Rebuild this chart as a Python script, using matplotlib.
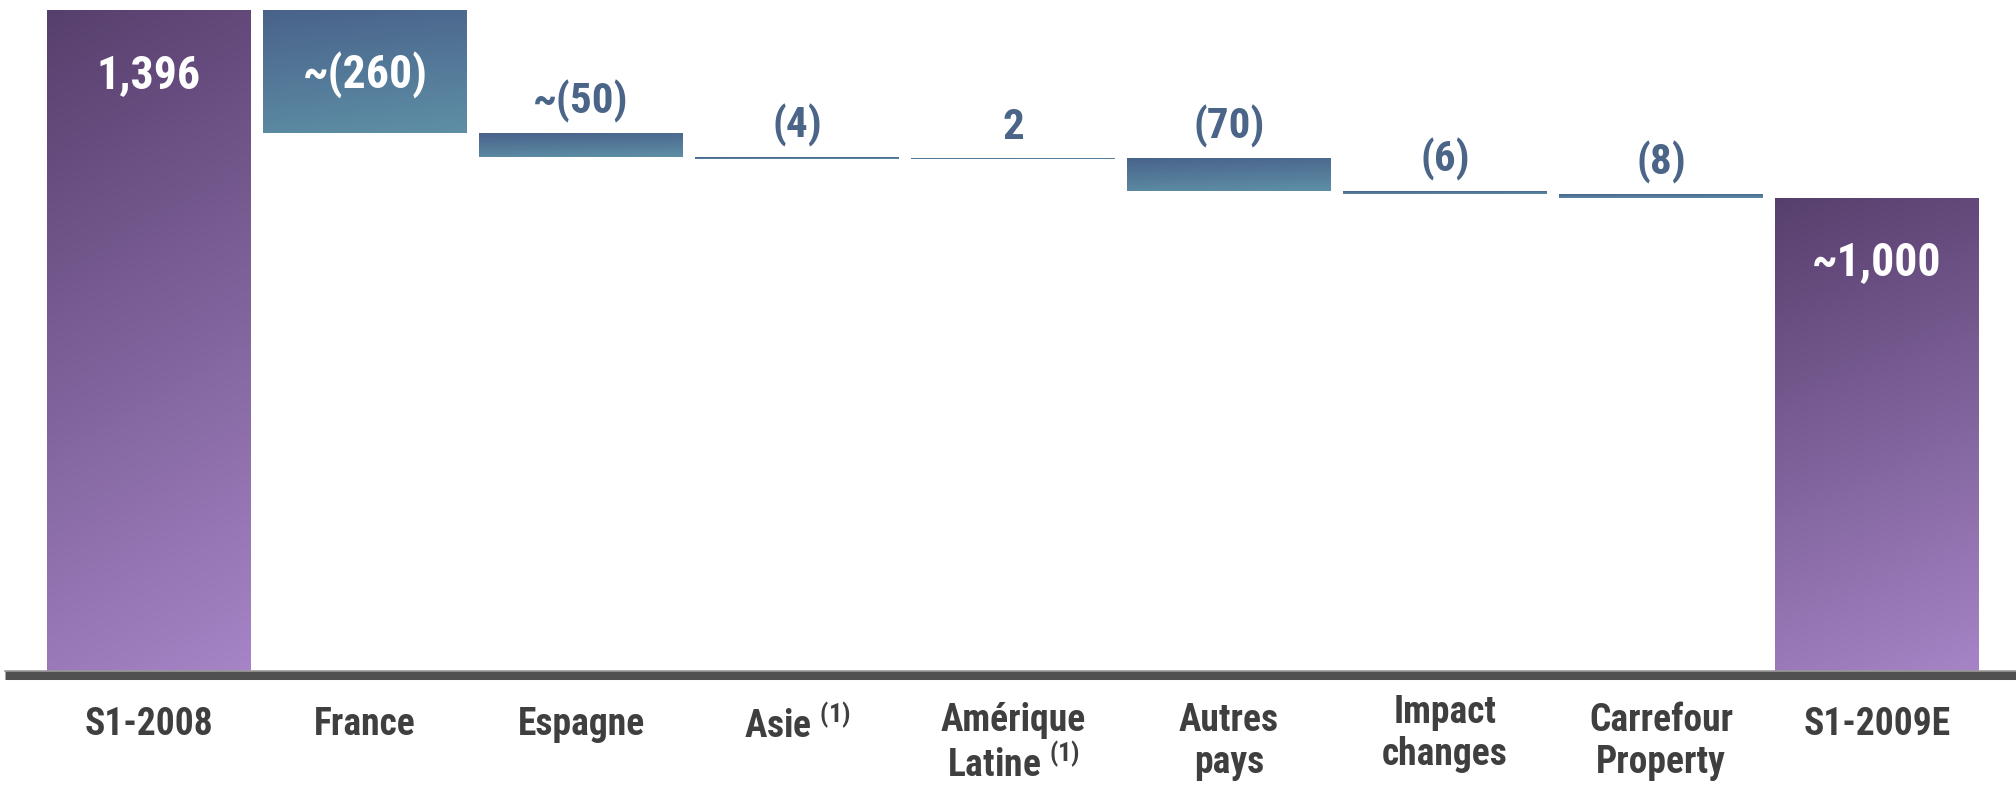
import numpy as np
import matplotlib
matplotlib.use("Agg")
import matplotlib.pyplot as plt
from matplotlib.colors import LinearSegmentedColormap
from matplotlib.lines import Line2D

plt.rcParams['font.family'] = ['Roboto Condensed', 'Liberation Sans', 'DejaVu Sans']
plt.rcParams['font.weight'] = 'bold'
plt.rcParams['mathtext.fontset'] = 'custom'
plt.rcParams['mathtext.rm'] = 'Roboto Condensed:bold'
plt.rcParams['mathtext.bf'] = 'Roboto Condensed:bold'

# waterfall data (EUR m)
categories = ['S1-2008', 'France', 'Espagne', 'Asie $^{(1)}$', 'Amérique\nLatine $^{(1)}$',
              'Autres\npays', 'Impact\nchanges', 'Carrefour\nProperty', 'S1-2009E']
start_value = 1396
deltas = [-260, -50, -4, 2, -70, -6, -8]
end_value = 1000
value_labels = ['1,396', '~(260)', '~(50)', '(4)', '2', '(70)', '(6)', '(8)', '~1,000']

purple = LinearSegmentedColormap.from_list('purple', ['#573f6d', '#a684c6'])
blue = LinearSegmentedColormap.from_list('blue', ['#49628a', '#5e8fa6'])

W, H = 2016, 788
fig = plt.figure(figsize=(W / 100, H / 100), dpi=100)
base_px, top_px = 671, 10
ax = fig.add_axes([0, (H - base_px) / H, 1, (base_px - top_px) / H])
ax.axis('off')

step_px = 216
first_px = 149
x0 = -first_px / step_px
x1 = x0 + W / step_px
bar_w = 0.94


def grad_bar(x, bottom, height, cmap):
    rect = ax.bar(x, height, bar_w, bottom=bottom, color='none', linewidth=0)[0]
    v = np.linspace(0, 1, 200).reshape(-1, 1)
    h = np.linspace(0, 1, 60).reshape(1, -1)
    g = 0.85 * v + 0.15 * h
    im = ax.imshow(g, cmap=cmap, extent=(x - bar_w / 2, x + bar_w / 2, bottom, bottom + height),
                   origin='upper', aspect='auto', interpolation='bilinear', zorder=2)
    im.set_clip_path(rect)
    return rect


level = start_value
bars = [(0, 0, start_value, purple)]
for i, d in enumerate(deltas, start=1):
    lo = min(level, level + d)
    bars.append((i, lo, abs(d), blue))
    level += d
bars.append((len(categories) - 1, 0, end_value, purple))

ax.set_xlim(x0, x1)
ax.set_ylim(0, start_value)

px_per_unit = (base_px - top_px) / start_value
for (x, b, hgt, cmap), lab in zip(bars, value_labels):
    grad_bar(x, b, hgt, cmap)
    top = b + hgt
    if hgt * px_per_unit >= 45:
        off = -65 if hgt * px_per_unit > 110 else -hgt * px_per_unit / 2
        ax.annotate(lab, (x, top), xytext=(0, off), textcoords='offset pixels',
                    ha='center', va='center', color='white', fontsize=33, zorder=3)
    else:
        ax.annotate(lab, (x, top), xytext=(0, 10), textcoords='offset pixels',
                    ha='center', va='bottom', color='#4a6588', fontsize=31, zorder=3)

ax.set_xlim(x0, x1)
ax.set_ylim(0, start_value)

# baseline rule
yl = (H - 675) / H
fig.add_artist(Line2D([5 / W, 1], [yl, yl], color='#505050', linewidth=6.5, solid_capstyle='butt'))
fig.add_artist(Line2D([5 / W, 1], [(H - 671) / H] * 2, color='#9a9a9a', linewidth=1.2))

# category labels
for i, cat in enumerate(categories):
    xp = (first_px + i * step_px) / W
    if cat.startswith('Impact'):
        ytop = 694
    elif '\n' in cat:
        ytop = 702
    else:
        ytop = 706
    fig.text(xp, (H - ytop) / H, cat, ha='center', va='top', multialignment='center',
             fontsize=27, color='#3f3f3f', linespacing=1.18)

fig.savefig('out.png', dpi=100)
